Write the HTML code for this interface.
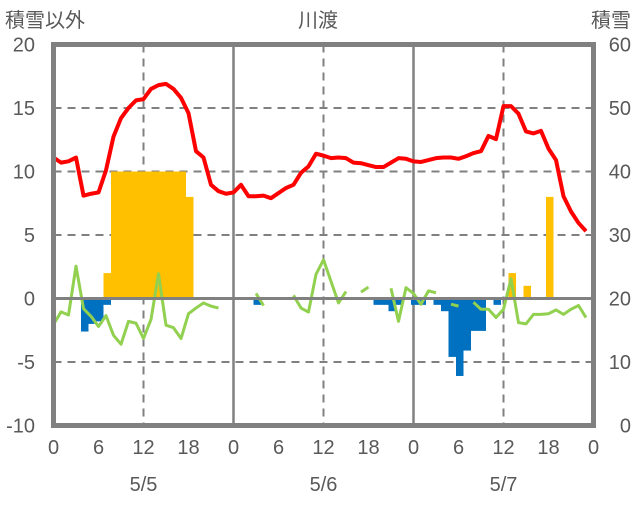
<!DOCTYPE html>
<html><head><meta charset="utf-8"><style>
body{margin:0;background:#fff}
svg text{font-family:"Liberation Sans","Noto Sans CJK JP",sans-serif;fill:#595959;font-size:20px}
</style></head><body>
<svg id="chart" width="636" height="501" xmlns="http://www.w3.org/2000/svg">
<text x="318" y="27" text-anchor="middle">川渡</text>
<text x="5" y="27">積雪以外</text>
<text x="631" y="27" text-anchor="end">積雪</text>
<g id="grid"></g><g id="bars"></g><g id="lines"></g><g id="axes"></g>
</svg>
<script>
const leftTicks=[20,15,10,5,0,-5,-10];
const rightTicks=[60,50,40,30,20,10,0];
const hourTicks=["0","6","12","18","0","6","12","18","0","6","12","18","0"];
const dates=["5/5","5/6","5/7"];
const temp=[11.1,10.7,10.8,11.1,8.1,8.25,8.35,10.1,12.75,14.2,15.0,15.6,15.7,16.5,16.8,16.9,16.5,15.8,14.6,11.6,11.1,8.95,8.45,8.25,
8.35,8.95,8.05,8.05,8.1,7.9,8.3,8.7,8.95,9.9,10.4,11.4,11.25,11.05,11.1,11.05,10.7,10.65,10.5,10.35,10.35,10.7,11.05,11.0,
10.8,10.75,10.9,11.05,11.1,11.1,11.0,11.2,11.45,11.6,12.8,12.55,15.15,15.15,14.55,13.15,13.0,13.2,11.8,10.9,8.05,6.85,5.95,5.3];
const green=[-2.05,-1.05,-1.3,2.55,-0.8,-1.4,-2.2,-1.35,-2.9,-3.6,-1.8,-1.95,-3.15,-1.65,1.95,-2.1,-2.3,-3.15,-1.2,-0.75,-0.35,-0.6,-0.75,null,
null,null,null,0.4,-0.55,null,null,null,0.25,-0.75,-1.07,1.9,3.05,1.35,-0.35,0.55,null,0.5,0.9,null,null,0.8,-1.8,0.85,
0.4,-0.45,0.6,0.45,null,-0.45,-0.6,null,-0.3,-0.85,-0.85,-1.5,-0.85,1.55,-1.9,-2.0,-1.25,-1.25,-1.2,-0.9,-1.25,-0.85,-0.55,-1.5];
const snowHours=[7,8,9,10,11,12,13,14,15,16,17,18,61,63,66];
const snowVals=[2,10,10,10,10,10,10,10,10,10,10,8,2,1,8];
const negHours=[4,5,6,7,27,43,44,45,46,48,49,51,52,53,54,55,56,57,59];
const negVals=[-2.6,-2.0,-1.8,-0.5,-0.5,-0.5,-0.5,-1.0,-0.5,-0.5,-0.5,-0.5,-1.0,-4.6,-6.1,-4.1,-2.55,-2.55,-0.5];
const X0=53.5,DX=7.5,Y0=298.5,DY=12.7;
const xs=h=>X0+DX*h, ys=v=>Y0-DY*v;
const NS="http://www.w3.org/2000/svg";
function mk(p,t,a){const e=document.createElementNS(NS,t);for(const k in a)e.setAttribute(k,a[k]);document.getElementById(p).appendChild(e);return e;}
// grid
leftTicks.forEach(v=>{if(v!==0&&v!==20&&v!==-10){const l=mk('grid','line',{x1:X0,x2:xs(72),y1:ys(v),y2:ys(v),stroke:'#808080','stroke-width':2,'stroke-dasharray':'8,6'});

}});
[12,36,60].forEach(h=>{const l=mk('grid','line',{x1:xs(h),x2:xs(h),y1:ys(20),y2:ys(-10),stroke:'#808080','stroke-width':2,'stroke-dasharray':'8,6'});

});
[24,48].forEach(h=>{const l=mk('grid','line',{x1:xs(h),x2:xs(h),y1:ys(20),y2:ys(-10),stroke:'#808080','stroke-width':2.5});

});
// bars
snowHours.forEach((h,i)=>{const v=snowVals[i];const r=mk('bars','rect',{x:xs(h)-2.5,y:ys(v),width:7.5,height:ys(0)-ys(v),fill:'#FFC000'});

});
negHours.forEach((h,i)=>{const v=negVals[i];const r=mk('bars','rect',{x:xs(h)-2.5,y:ys(0),width:7.5,height:ys(v)-ys(0),fill:'#0070C0'});

});
// zero line
const z=mk('axes','line',{x1:X0,x2:xs(72),y1:ys(0),y2:ys(0),stroke:'#808080','stroke-width':3});


// green line segments
let seg=[];const segs=[];
green.forEach((v,i)=>{if(v===null){if(seg.length)segs.push(seg);seg=[];}else seg.push(xs(i)+','+ys(v));});
if(seg.length)segs.push(seg);
segs.forEach(s=>{const p=mk('lines','polyline',{points:s.join(' '),fill:'none',stroke:'#92D050','stroke-width':3,'stroke-linejoin':'round'});

});
const t=mk('lines','polyline',{points:temp.map((v,i)=>xs(i)+','+ys(v)).join(' '),fill:'none',stroke:'#FF0000','stroke-width':4,'stroke-linejoin':'round'});


// frame
const f=mk('axes','rect',{x:X0,y:ys(20),width:DX*72,height:ys(-10)-ys(20),fill:'none',stroke:'#808080','stroke-width':5});


// tick labels
leftTicks.forEach(v=>{const e=mk('axes','text',{x:35,y:ys(v)+7,'text-anchor':'end'});e.textContent=v;

});
rightTicks.forEach((v,i)=>{const e=mk('axes','text',{x:631,y:ys(leftTicks[i])+7,'text-anchor':'end'});e.textContent=v;

});
hourTicks.forEach((s,i)=>{const e=mk('axes','text',{x:xs(i*6),y:454,'text-anchor':'middle'});e.textContent=s;

});
dates.forEach((s,i)=>{const e=mk('axes','text',{x:xs(12+24*i),y:491,'text-anchor':'middle'});e.textContent=s;

});
</script>
</body></html>
